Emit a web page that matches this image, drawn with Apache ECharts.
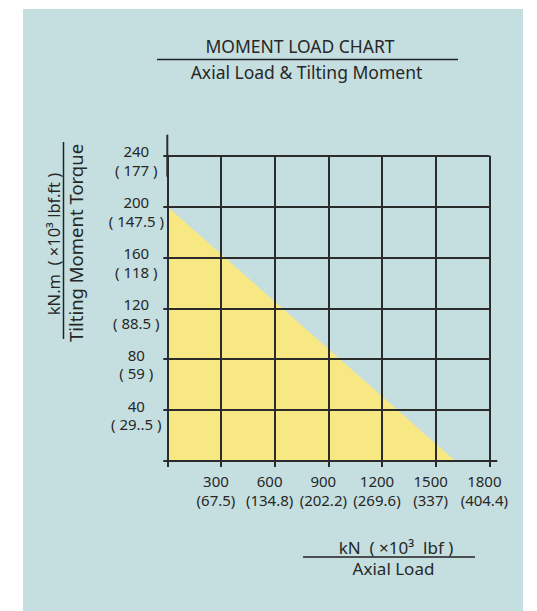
<!DOCTYPE html>
<html>
<head>
<meta charset="utf-8">
<script src="https://cdn.jsdelivr.net/npm/echarts@6/dist/echarts.min.js"></script>
<style>
  html, body { margin: 0; padding: 0; background: #ffffff; }
  #panel { position: absolute; left: 23px; top: 9px; width: 500px; height: 602px; background: #c5dfe0; }
  #chart { position: absolute; left: 0; top: 0; width: 537px; height: 611px; }
</style>
</head>
<body>
<div id="panel"></div>
<div id="chart"></div>
<script>
// ---- data ----
const xTicks = [300, 600, 900, 1200, 1500, 1800];
const xTickSub = ['(67.5)', '(134.8)', '(202.2)', '(269.6)', '(337)', '(404.4)'];
const yTicks = [40, 80, 120, 160, 200, 240];
const yTickSub = ['( 29..5 )', '( 59 )', '( 88.5 )', '( 118 )', '( 147.5 )', '( 177 )'];
const loadKN = [0, 1610];       // axial load (kN) of the limit line
const momentKNm = [200, 0];     // tilting moment (kN.m) of the limit line

const FONT = 'Noto Sans';
const TXT = '#272727';
const LINE = '#2b2b2b';

const chart = echarts.init(document.getElementById('chart'), null, { renderer: 'svg' });

chart.setOption({
  backgroundColor: 'transparent',
  animation: false,
  grid: { left: 167.3, right: 47.7, top: 155.7, bottom: 150, containLabel: false },
  xAxis: {
    type: 'value', min: 0, max: 1800, interval: 300, z: 10,
    axisLine: { show: true, lineStyle: { color: LINE, width: 2 }, symbol: ['none', 'rect'], symbolSize: [2, 16] },
    axisTick: { show: true, length: 6, lineStyle: { color: LINE, width: 2 } },
    splitLine: { show: true, lineStyle: { color: LINE, width: 2 } },
    axisLabel: {
      margin: 11, color: TXT, fontFamily: FONT, fontSize: 15, lineHeight: 18.5,
      verticalAlign: 'top', padding: [0, 10, 0, 0],
      formatter: v => { const i = xTicks.indexOf(v); return i < 0 ? '' : xTicks[i] + '\n' + xTickSub[i]; }
    }
  },
  yAxis: {
    type: 'value', min: 0, max: 240, interval: 40, z: 10,
    axisLine: { show: true, lineStyle: { color: LINE, width: 2 }, symbol: ['none', 'rect'], symbolSize: [2, 42] },
    axisTick: { show: true, length: 4, lineStyle: { color: LINE, width: 2 } },
    splitLine: { show: true, lineStyle: { color: LINE, width: 2 } },
    axisLabel: {
      margin: 31, color: TXT, fontFamily: FONT, fontSize: 15,
      align: 'center',
      rich: {
        s: { fontFamily: FONT, fontSize: 4, lineHeight: 10, align: 'center' },
        a: { fontFamily: FONT, fontSize: 15, color: TXT, lineHeight: 18.5, align: 'center' }
      },
      formatter: v => { const i = yTicks.indexOf(v); return i < 0 ? '' : '{s| }\n{a|' + yTicks[i] + '}\n{a|' + yTickSub[i] + '}'; }
    }
  },
  series: [{
    type: 'line', z: 1,
    data: loadKN.map((x, i) => [x, momentKNm[i]]),
    symbol: 'none',
    lineStyle: { width: 0 },
    areaStyle: { color: '#f7e883', opacity: 1, origin: 'start' }
  }],
  graphic: [
    { type: 'text', x: 300, y: 46, style: { text: 'MOMENT LOAD CHART', font: '17.5px "Noto Sans"', fill: TXT, textAlign: 'center', textVerticalAlign: 'middle' } },
    { type: 'line', shape: { x1: 157, y1: 59.5, x2: 458, y2: 59.5 }, style: { stroke: '#222', lineWidth: 1.5 } },
    { type: 'text', x: 306.5, y: 72, style: { text: 'Axial Load & Tilting Moment', font: '17.5px "Noto Sans"', fill: TXT, textAlign: 'center', textVerticalAlign: 'middle' } },

    { type: 'text', x: 53.5, y: 244, rotation: Math.PI / 2, style: { text: 'kN.m  ( ×10³ lbf.ft )', font: '16.5px "Noto Sans"', fill: TXT, textAlign: 'center', textVerticalAlign: 'middle' } },
    { type: 'line', shape: { x1: 63.5, y1: 142, x2: 63.5, y2: 339 }, style: { stroke: '#222', lineWidth: 1.5 } },
    { type: 'text', x: 75.5, y: 243, rotation: Math.PI / 2, style: { text: 'Tilting Moment Torque', font: '18.5px "Noto Sans"', fill: TXT, textAlign: 'center', textVerticalAlign: 'middle' } },

    { type: 'text', x: 396, y: 547, style: { text: 'kN  ( ×10³  lbf )', font: '17px "Noto Sans"', fill: TXT, textAlign: 'center', textVerticalAlign: 'middle' } },
    { type: 'line', shape: { x1: 303, y1: 557, x2: 475, y2: 557 }, style: { stroke: '#222', lineWidth: 1.5 } },
    { type: 'text', x: 393.5, y: 568.5, style: { text: 'Axial Load', font: '17px "Noto Sans"', fill: TXT, textAlign: 'center', textVerticalAlign: 'middle' } }
  ]
});
</script>
</body>
</html>
